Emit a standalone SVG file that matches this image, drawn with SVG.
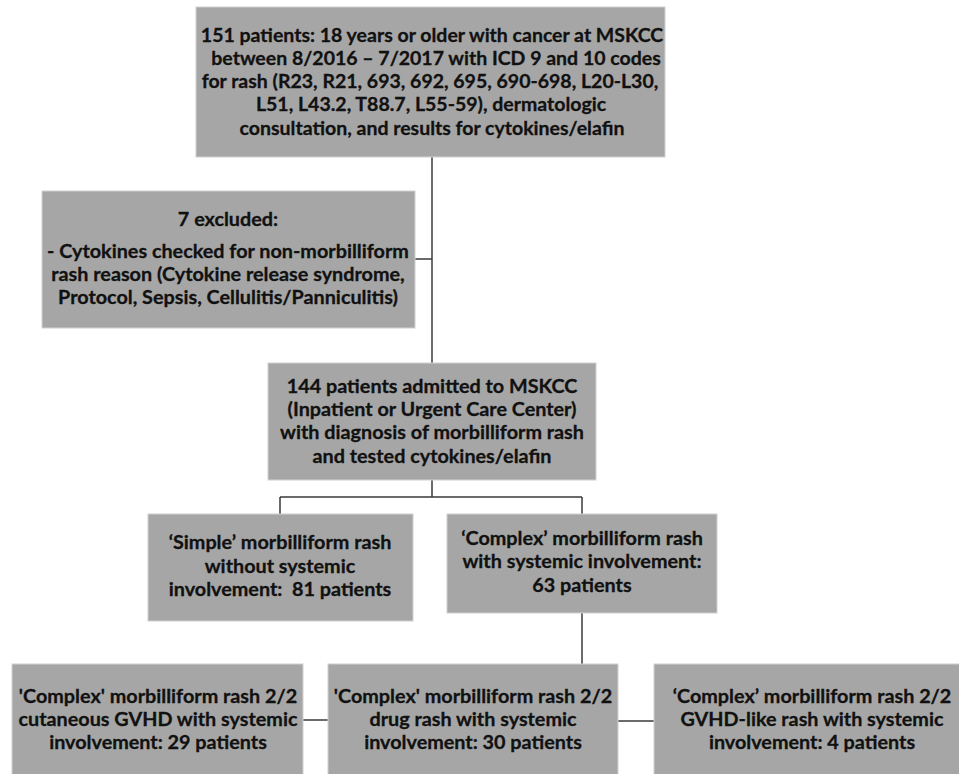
<svg xmlns="http://www.w3.org/2000/svg" width="959" height="774" viewBox="0 0 959 774">
<style>
.box{fill:#a6a6a6;stroke:#d0d0d0;stroke-width:1}
.t{font-family:Lato,"Open Sans","Liberation Sans",sans-serif;font-weight:bold;font-size:19.8px;fill:#111;stroke:#111;stroke-width:0.3;text-anchor:middle;white-space:pre}
.t2{font-size:19.5px}
.ln{fill:none;stroke:#3a3a3a;stroke-width:1.5}
</style>
<rect width="959" height="774" fill="#fff"/>
<g id="connectors">
<path class="ln" d="M432 157 V363"/>
<path class="ln" d="M415 259 H432"/>
<path class="ln" d="M432 480 V497 M280 497 H582 M280 497 V514 M582 497 V514"/>
<path class="ln" d="M582 613 V664"/>
<path class="ln" d="M303 720 H328 M618 721 H654"/>
</g>
<g id="n-top">
<rect class="box" x="196" y="7" width="469" height="150"/>
<text class="t t2" x="432" y="42">151 patients: 18 years or older with cancer at MSKCC</text>
<text class="t t2" x="436" y="65">between 8/2016 – 7/2017 with ICD 9 and 10 codes</text>
<text class="t t2" x="430" y="88">for rash (R23, R21, 693, 692, 695, 690-698, L20-L30,</text>
<text class="t t2" x="431" y="111">L51, L43.2, T88.7, L55-59), dermatologic</text>
<text class="t t2" x="432" y="135">consultation, and results for cytokines/elafin</text>
</g>
<g id="n-excluded">
<rect class="box" x="42" y="191" width="373" height="137"/>
<text class="t" x="228" y="226">7 excluded:</text>
<text class="t" x="228" y="258">- Cytokines checked for non-morbilliform</text>
<text class="t" x="228" y="281">rash reason (Cytokine release syndrome,</text>
<text class="t" x="228" y="304">Protocol, Sepsis, Cellulitis/Panniculitis)</text>
</g>
<g id="n-144">
<rect class="box" x="268" y="363" width="328" height="117"/>
<text class="t" x="432" y="393">144 patients admitted to MSKCC</text>
<text class="t" x="432" y="416">(Inpatient or Urgent Care Center)</text>
<text class="t" x="432" y="439">with diagnosis of morbilliform rash</text>
<text class="t" x="432" y="463">and tested cytokines/elafin</text>
</g>
<g id="n-simple">
<rect class="box" x="148" y="514" width="265" height="107"/>
<text class="t" x="280" y="549">‘Simple’ morbilliform rash</text>
<text class="t" x="280" y="573">without systemic</text>
<text class="t" x="280" y="596" xml:space="preserve">involvement:  81 patients</text>
</g>
<g id="n-complex">
<rect class="box" x="447" y="514" width="270" height="99"/>
<text class="t" x="582" y="545">‘Complex’ morbilliform rash</text>
<text class="t" x="582" y="568">with systemic involvement:</text>
<text class="t" x="582" y="592">63 patients</text>
</g>
<g id="n-gvhd">
<rect class="box" x="12" y="664" width="291" height="115"/>
<text class="t" x="158" y="703">'Complex' morbilliform rash 2/2</text>
<text class="t" x="158" y="726">cutaneous GVHD with systemic</text>
<text class="t" x="158" y="749">involvement: 29 patients</text>
</g>
<g id="n-drug">
<rect class="box" x="328" y="664" width="290" height="115"/>
<text class="t" x="473" y="703">'Complex' morbilliform rash 2/2</text>
<text class="t" x="473" y="726">drug rash with systemic</text>
<text class="t" x="473" y="749">involvement: 30 patients</text>
</g>
<g id="n-gvhdlike">
<rect class="box" x="654" y="664" width="320" height="115"/>
<text class="t" x="812" y="703">‘Complex’ morbilliform rash 2/2</text>
<text class="t" x="812" y="726">GVHD-like rash with systemic</text>
<text class="t" x="812" y="749">involvement: 4 patients</text>
</g>
</svg>
